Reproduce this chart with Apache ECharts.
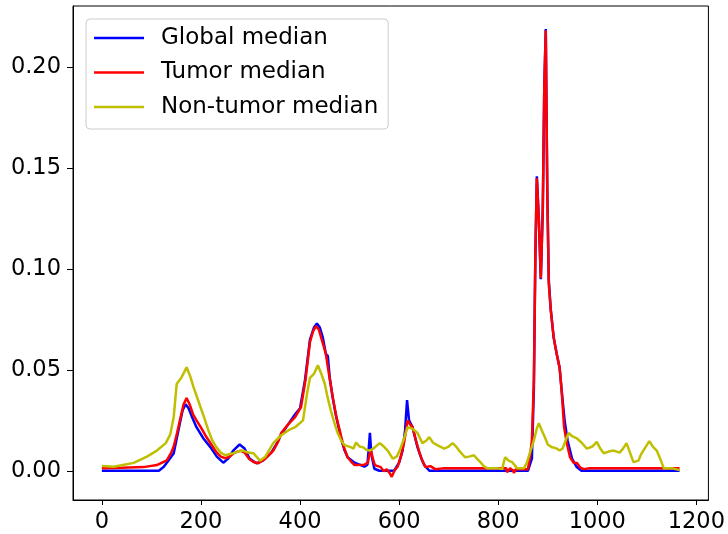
<!DOCTYPE html>
<html>
<head>
<meta charset="utf-8">
<script src="https://cdn.jsdelivr.net/npm/echarts@6/dist/echarts.min.js"></script>
<style>
  html, body { margin: 0; padding: 0; background: #fff; }
  #main { width: 728px; height: 534px; }
</style>
</head>
<body>
<div id="main"></div>
<script>
// values
var seriesNames = ["Global median", "Tumor median", "Non-tumor median"];
var xTicks = [0, 200, 400, 600, 800, 1000, 1200];
var yTicks = [0, 0.05, 0.10, 0.15, 0.20];

var globalX = [0, 115, 125, 137, 145, 157, 163, 169, 175, 183, 191, 205, 219, 232, 245, 255, 265, 278, 288, 298, 312, 325, 342, 352, 362, 376, 390, 400, 410, 420, 428, 434, 440, 446, 452, 456, 460, 466, 472, 482, 490, 496, 510, 530, 536, 539, 541, 544, 550, 560, 590, 600, 607, 612, 616, 620, 627, 637, 645, 651, 661, 860, 864, 868, 872, 875, 878, 882, 886, 890, 893, 896, 899, 902, 906, 912, 918, 924, 928, 934, 940, 949, 958, 968, 1166];
var globalY = [0, 0, 0.002, 0.006, 0.0087, 0.023, 0.030, 0.033, 0.031, 0.026, 0.0216, 0.016, 0.0117, 0.007, 0.004, 0.006, 0.010, 0.013, 0.011, 0.006, 0.0037, 0.005, 0.009, 0.013, 0.018, 0.023, 0.028, 0.031, 0.045, 0.065, 0.071, 0.073, 0.071, 0.066, 0.058, 0.057, 0.046, 0.036, 0.028, 0.0167, 0.010, 0.0067, 0.004, 0.002, 0.003, 0.012, 0.0188, 0.008, 0.001, 0, 0, 0.004, 0.010, 0.020, 0.035, 0.025, 0.0216, 0.0117, 0.006, 0.0028, 0, 0, 0.003, 0.006, 0.041, 0.107, 0.146, 0.125, 0.095, 0.13, 0.19, 0.219, 0.14, 0.095, 0.08, 0.066, 0.058, 0.051, 0.04, 0.025, 0.015, 0.006, 0.002, 0, 0];

var tumorX = [0, 40, 84, 111, 131, 140, 145, 152, 159, 165, 171, 177, 184, 191, 201, 211, 221, 231, 240, 249, 258, 268, 280, 288, 297, 306, 316, 330, 346, 355, 362, 376, 390, 402, 411, 420, 426, 432, 438, 445, 452, 459, 466, 473, 480, 488, 496, 505, 510, 530, 537, 540, 543, 547, 551, 563, 569, 575, 581, 585, 591, 597, 603, 610, 617, 622, 627, 634, 641, 647, 653, 663, 673, 691, 816, 818, 824, 829, 832, 836, 860, 864, 868, 872, 875, 878, 882, 886, 890, 893, 896, 899, 902, 906, 912, 918, 924, 928, 933, 939, 945, 952, 959, 966, 973, 985, 1166];
var tumorY = [0.0013, 0.0015, 0.0018, 0.0028, 0.0052, 0.009, 0.012, 0.019, 0.0266, 0.033, 0.036, 0.033, 0.028, 0.025, 0.021, 0.0167, 0.013, 0.0092, 0.007, 0.0062, 0.007, 0.009, 0.010, 0.009, 0.006, 0.0043, 0.0037, 0.006, 0.010, 0.014, 0.0187, 0.023, 0.0266, 0.0316, 0.045, 0.0637, 0.069, 0.0717, 0.070, 0.064, 0.058, 0.047, 0.0365, 0.027, 0.020, 0.012, 0.0067, 0.004, 0.0028, 0.003, 0.004, 0.008, 0.010, 0.006, 0.0028, 0.0018, -0.0003, 0.0008, -0.0012, -0.003, 0.0003, 0.002, 0.0067, 0.014, 0.025, 0.023, 0.0216, 0.015, 0.009, 0.005, 0.0018, 0.0023, 0.0008, 0.0013, 0.0013, -0.0007, 0.0013, 0.0003, -0.001, 0.0008, 0.0008, 0.0067, 0.015, 0.045, 0.107, 0.145, 0.124, 0.0954, 0.13, 0.19, 0.2183, 0.14, 0.093, 0.08, 0.066, 0.058, 0.051, 0.04, 0.0216, 0.013, 0.0067, 0.004, 0.0038, 0.0015, 0.0008, 0.0013, 0.0012];

var nonTumorX = [0, 24, 45, 64, 90, 111, 129, 138, 145, 151, 161, 171, 178, 185, 199, 207, 215, 223, 231, 240, 249, 265, 275, 285, 295, 306, 319, 330, 346, 362, 376, 390, 406, 414, 420, 428, 436, 443, 450, 456, 462, 469, 476, 483, 490, 502, 508, 513, 520, 527, 533, 540, 548, 561, 569, 577, 587, 595, 601, 610, 617, 625, 631, 637, 647, 655, 661, 668, 677, 691, 700, 708, 715, 721, 733, 741, 751, 757, 764, 772, 778, 798, 808, 811, 814, 821, 828, 838, 852, 858, 864, 872, 878, 882, 888, 894, 900, 908, 913, 918, 924, 930, 936, 942, 950, 959, 968, 979, 990, 999, 1006, 1013, 1023, 1033, 1045, 1052, 1059, 1066, 1073, 1083, 1088, 1093, 1105, 1112, 1120, 1127, 1134, 1150, 1166];
var nonTumorY = [0.0023, 0.002, 0.003, 0.0039, 0.0069, 0.010, 0.0137, 0.018, 0.0267, 0.043, 0.0464, 0.0513, 0.047, 0.0415, 0.0316, 0.026, 0.020, 0.015, 0.0117, 0.009, 0.0077, 0.0087, 0.0095, 0.010, 0.009, 0.0087, 0.005, 0.007, 0.0137, 0.0176, 0.020, 0.0216, 0.025, 0.038, 0.046, 0.048, 0.0523, 0.048, 0.043, 0.036, 0.030, 0.024, 0.0187, 0.015, 0.0127, 0.0117, 0.011, 0.014, 0.012, 0.0117, 0.0105, 0.010, 0.011, 0.0137, 0.012, 0.010, 0.006, 0.007, 0.010, 0.016, 0.0216, 0.021, 0.020, 0.0187, 0.0137, 0.015, 0.0167, 0.014, 0.0127, 0.011, 0.012, 0.0137, 0.012, 0.010, 0.0067, 0.007, 0.0077, 0.006, 0.0043, 0.002, 0.0013, 0.0013, 0.0008, 0.004, 0.0067, 0.005, 0.0043, 0.0013, 0.0013, 0.004, 0.009, 0.015, 0.021, 0.0236, 0.020, 0.0167, 0.013, 0.0117, 0.0115, 0.011, 0.010, 0.011, 0.015, 0.0187, 0.017, 0.016, 0.014, 0.011, 0.012, 0.0143, 0.011, 0.0087, 0.0095, 0.010, 0.009, 0.011, 0.0137, 0.009, 0.0043, 0.005, 0.008, 0.010, 0.0147, 0.012, 0.010, 0.006, 0.0013, 0.0013, 0.0003];

function pairs(xs, ys) {
  return xs.map(function (x, i) { return [x, ys[i]]; });
}

var FONT = "DejaVu Sans";
var colors = ["#0000ff", "#ff0000", "#bfbf00"];

var chartDom = document.getElementById("main");
var myChart = echarts.init(chartDom, null, { renderer: "canvas" });

function lineSeries(name, data, color) {
  return {
    name: name,
    type: "line",
    data: data,
    showSymbol: false,
    symbol: "none",
    lineStyle: { color: color, width: 2.5 },
    itemStyle: { color: color },
    emphasis: { disabled: true }
  };
}

var option = {
  animation: false,
  backgroundColor: "#fff",
  color: colors,
  grid: {
    left: 73, right: 17, top: 6, bottom: 34,
    show: true, borderColor: "#000", borderWidth: 1,
    backgroundColor: "transparent"
  },
  legend: {
    data: seriesNames,
    orient: "vertical",
    left: 86,
    top: 19,
    padding: [7, 10, 10, 8],
    itemGap: 10.5,
    itemWidth: 50,
    itemHeight: 2.5,
    icon: "rect",
    backgroundColor: "rgba(255,255,255,0.8)",
    borderColor: "#cccccc",
    borderWidth: 1,
    borderRadius: 4,
    textStyle: {
      fontFamily: FONT,
      fontSize: 23,
      color: "#000",
      lineHeight: 24,
      padding: [0, 0, 0, 12]
    }
  },
  xAxis: {
    type: "value",
    min: -58.3,
    max: 1224.3,
    splitLine: { show: false },
    axisLine: { show: true, onZero: false, lineStyle: { color: "#000", width: 1 } },
    axisTick: { show: true, length: 5, customValues: xTicks, lineStyle: { color: "#000" } },
    axisLabel: {
      customValues: xTicks,
      margin: 11,
      fontFamily: FONT,
      fontSize: 22.5,
      color: "#000",
      formatter: function (v) { return String(v); }
    }
  },
  yAxis: {
    type: "value",
    min: -0.0145,
    max: 0.2304,
    splitLine: { show: false },
    axisLine: { show: true, onZero: false, lineStyle: { color: "#000", width: 1 } },
    axisTick: { show: true, length: 6, customValues: yTicks, lineStyle: { color: "#000" } },
    axisLabel: {
      customValues: yTicks,
      margin: 12,
      fontFamily: FONT,
      fontSize: 22.5,
      color: "#000",
      formatter: function (v) { return v.toFixed(2); }
    }
  },
  series: [
    lineSeries(seriesNames[0], pairs(globalX, globalY), colors[0]),
    lineSeries(seriesNames[1], pairs(tumorX, tumorY), colors[1]),
    lineSeries(seriesNames[2], pairs(nonTumorX, nonTumorY), colors[2])
  ]
};

myChart.setOption(option);
</script>
</body>
</html>
